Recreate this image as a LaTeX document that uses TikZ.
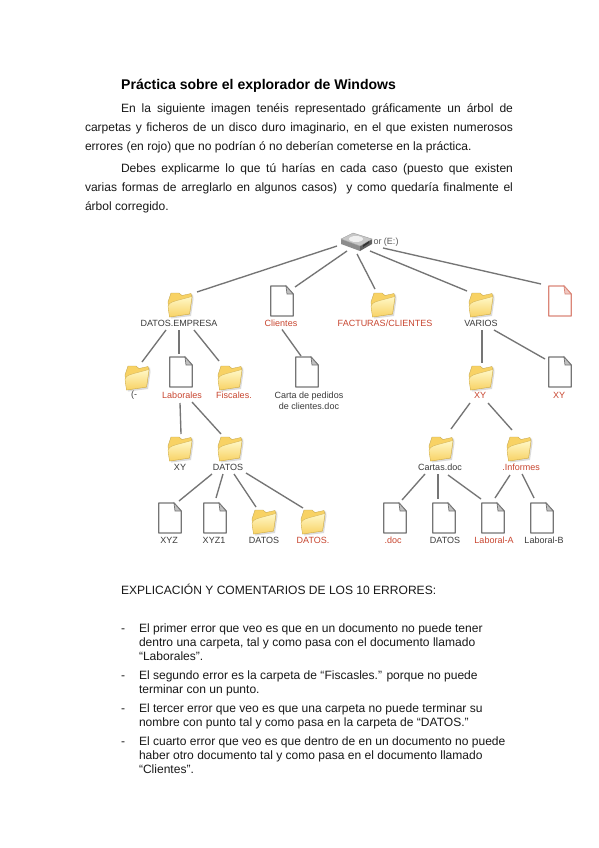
\documentclass[tikz,border=0pt]{standalone}
\usepackage{fontspec,xcolor}
\setmainfont{Liberation Sans}
\usetikzlibrary{positioning}
\definecolor{errred}{HTML}{C8452F}
\definecolor{linegray}{HTML}{757575}
\definecolor{textgray}{HTML}{3A3A3A}
\definecolor{folderhi}{HTML}{FFF8C8}
\definecolor{folderlo}{HTML}{F8D264}
\tikzset{
    x=1pt,y=-1pt,
    link/.style={draw=linegray,line width=1.35pt},
    iconbox/.style={inner sep=0pt,outer sep=0pt,minimum width=24pt,minimum height=24pt},
    lbl/.style={inner sep=0pt,outer sep=0pt,minimum height=12pt,text=textgray,font=\fontsize{9}{10.5}\selectfont,align=center},
    lblerr/.style={lbl,text=errred},
    para/.style={inner sep=0pt,outer sep=0pt,anchor=north west,text width=428pt,align=justify,font=\fontsize{12.05}{18.6}\selectfont,text=black!90},
    item/.style={inner sep=0pt,outer sep=0pt,anchor=base west,align=left,font=\fontsize{12.05}{14.3}\selectfont,text=black!90},
    folderpic/.pic={
        \fill[black!14] (-10,-9) -- (13,-10.5) -- (13.5,-6) -- (11,11) -- (-9,13.5) -- cycle;
        \fill[draw=folderlo!80!black,line width=.35pt,fill=folderlo] (-12,-3) -- (-9,-12) -- (-1,-12) -- (2,-9.5) -- (11,-11.5) -- (12,-8) -- (9.5,9) -- (-10.5,12) -- cycle;
        \shade[top color=folderhi,bottom color=folderlo,draw=folderlo!85!black,line width=.35pt] (-12,1) .. controls (-10.5,-3) and (-6,-3.5) .. (-3,-4.5) -- (12,-8.5) -- (9.5,9) -- (-10.5,12) -- cycle;
    },
    docpic/.pic={
        \fill[white,draw=#1,line width=1.25pt,line join=round] (-11.2,-15) -- (4,-15) -- (11.2,-7) -- (11.2,15) -- (-11.2,15) -- cycle;
        \fill[#1!45,draw=#1,line width=.7pt] (4,-15) -- (5,-7) -- (11.2,-7) -- cycle;
    },
    drivepic/.pic={
        \fill[black!45] (-15,-3) -- (4,4) -- (4,9) -- (-15,2) -- cycle;
        \fill[black!62] (4,4) -- (16,-3) -- (16,2) -- (4,9) -- cycle;
        \fill[black!22,draw=black!40,line width=.4pt] (-15,-3) -- (-3,-9) -- (16,-3) -- (4,4) -- cycle;
        \fill[black!6] (0,-3) ellipse (7 and 3);
        \fill[black!80] (7,3) -- (13,-1) -- (13,1) -- (7,5) -- cycle;
    }
}
\newcommand{\folderat}[3]{\node[iconbox] (#1) at (#2,#3) {}; \pic at ([shift={(0,1)}]#1.center) {folderpic};}
\newcommand{\docat}[4][linegray]{\node[iconbox,minimum height=30pt] (#2) at (#3,#4) {}; \pic at (#2.center) {docpic=#1};}
\begin{document}
\begin{tikzpicture}
    \useasboundingbox[fill=white] (0,0) rectangle (599,848);

    % text above the tree
    \node[inner sep=0pt,anchor=base west,font=\fontsize{14.05}{16}\bfseries] (title) at (121,90) {Práctica sobre el explorador de Windows};
    \node[para] (intro) at (85,104) {\hspace*{36pt}En la siguiente imagen tenéis representado gráficamente un árbol de\linebreak carpetas y ficheros de un disco duro imaginario, en el que existen numerosos\linebreak errores (en rojo) que no podrían ó no deberían cometerse en la práctica.};
    \node[para] (task) at (85,164) {\hspace*{36pt}Debes explicarme lo que tú harías en cada caso (puesto que existen\linebreak varias formas de arreglarlo en algunos casos) \ y como quedaría finalmente el\linebreak árbol corregido.};

    % tree
    \node[iconbox,minimum width=32pt,minimum height=20pt] (drive) at (356,242) {};
    \pic at (drive.center) {drivepic};
    \node[lbl,text=black!65] (lDrive) at (386,242.5) {or (E:)};

    \folderat{fEmpresa}{180}{304}
    \docat{dClientes}{282}{301}
    \folderat{fFacturas}{383}{304}
    \folderat{fVarios}{481}{304}
    \docat[errred!65!white]{dError}{560}{301}
    \node[lbl] (lEmpresa) at (179,323.5) {DATOS.EMPRESA};
    \node[lblerr] (lClientes) at (281,323.5) {Clientes};
    \node[lblerr] (lFacturas) at (385,323.5) {FACTURAS/CLIENTES};
    \node[lbl] (lVarios) at (481,323.5) {VARIOS};

    \folderat{fGuion}{137}{377}
    \docat{dLaborales}{181}{372}
    \folderat{fFiscales}{230}{377}
    \docat{dCarta}{307}{372}
    \folderat{fXYb}{481}{377}
    \docat{dXYb}{560}{372}
    \node[lbl] (lGuion) at (134,395.5) {(-};
    \node[lblerr] (lLaborales) at (182,395.5) {Laborales};
    \node[lblerr] (lFiscales) at (234,395.5) {Fiscales.};
    \node[lbl] (lCarta) at (309,401) {Carta de pedidos\\de clientes.doc};
    \node[lblerr] (lXYb) at (480,395.5) {XY};
    \node[lblerr] (lXYc) at (559,395.5) {XY};

    \folderat{fXYa}{180}{448}
    \folderat{fDatos}{230}{448}
    \folderat{fCartas}{441}{448}
    \folderat{fInformes}{519}{448}
    \node[lbl] (lXYa) at (180,467) {XY};
    \node[lbl] (lDatos) at (228,467) {DATOS};
    \node[lbl] (lCartas) at (440,467) {Cartas.doc};
    \node[lblerr] (lInformes) at (521,467) {.Informes};

    \docat{dXYZ}{170}{518}
    \docat{dXYZuno}{215}{518}
    \folderat{fDatosB}{264}{521}
    \folderat{fDatosC}{313}{521}
    \docat{dDoc}{395}{518}
    \docat{dDatos}{444}{518}
    \docat{dLabA}{493}{518}
    \docat{dLabB}{542}{518}
    \node[lbl] (lXYZ) at (169,540.5) {XYZ};
    \node[lbl] (lXYZuno) at (214,540.5) {XYZ1};
    \node[lbl] (lDatosB) at (264,540.5) {DATOS};
    \node[lblerr] (lDatosC) at (313,540.5) {DATOS.};
    \node[lblerr] (lDoc) at (393,540.5) {.doc};
    \node[lbl] (lDatosD) at (445,540.5) {DATOS};
    \node[lblerr] (lLabA) at (494,540.5) {Laboral-A};
    \node[lbl] (lLabB) at (544,540.5) {Laboral-B};

    % connectors
    \draw[link] ([shift={(-19,4)}]drive.center) -- ([shift={(17,-12)}]fEmpresa.center);
    \draw[link] ([shift={(-9,9)}]drive.center) -- ([shift={(13,-14)}]dClientes.center);
    \draw[link] ([shift={(1,12)}]drive.center) -- ([shift={(-8,-15)}]fFacturas.center);
    \draw[link] ([shift={(14,9)}]drive.center) -- ([shift={(-14,-13)}]fVarios.center);
    \draw[link] ([shift={(27,6)}]drive.center) -- ([shift={(-19,-17)}]dError.center);
    \draw[link] ([shift={(-13,6.5)}]lEmpresa.center) -- ([shift={(5,-15)}]fGuion.center);
    \draw[link] ([shift={(0,6.5)}]lEmpresa.center) -- ([shift={(-2,-18)}]dLaborales.center);
    \draw[link] ([shift={(15,6.5)}]lEmpresa.center) -- ([shift={(-11,-16)}]fFiscales.center);
    \draw[link] ([shift={(1,6)}]lClientes.center) -- ([shift={(-6,-16)}]dCarta.center);
    \draw[link] ([shift={(1,6.5)}]lVarios.center) -- ([shift={(1,-14)}]fXYb.center);
    \draw[link] ([shift={(13,6.5)}]lVarios.center) -- ([shift={(-15,-13)}]dXYb.center);
    \draw[link] ([shift={(-2,7.5)}]lLaborales.center) -- ([shift={(1,-14)}]fXYa.center);
    \draw[link] ([shift={(10,6.5)}]lLaborales.center) -- ([shift={(-9,-14)}]fDatos.center);
    \draw[link] ([shift={(-16,7)}]lDatos.center) -- ([shift={(9,-17)}]dXYZ.center);
    \draw[link] ([shift={(-5,7)}]lDatos.center) -- ([shift={(1,-20)}]dXYZuno.center);
    \draw[link] ([shift={(6,7)}]lDatos.center) -- ([shift={(-8,-14)}]fDatosB.center);
    \draw[link] ([shift={(18,6)}]lDatos.center) -- ([shift={(-10,-13)}]fDatosC.center);
    \draw[link] ([shift={(-10,7.5)}]lXYb.center) -- ([shift={(10,-19)}]fCartas.center);
    \draw[link] ([shift={(8,7.5)}]lXYb.center) -- ([shift={(-7,-18)}]fInformes.center);
    \draw[link] ([shift={(-15,7)}]lCartas.center) -- ([shift={(7,-18)}]dDoc.center);
    \draw[link] ([shift={(-2,7)}]lCartas.center) -- ([shift={(-6,-19)}]dDatos.center);
    \draw[link] ([shift={(8,8)}]lCartas.center) -- ([shift={(-12,-19)}]dLabA.center);
    \draw[link] ([shift={(-11,8)}]lInformes.center) -- ([shift={(2,-20)}]dLabA.center);
    \draw[link] ([shift={(1,7)}]lInformes.center) -- ([shift={(-8,-20)}]dLabB.center);

    % text below the tree
    \node[item] (heading) at (121,594.5) {EXPLICACIÓN Y COMENTARIOS DE LOS 10 ERRORES:};
    \node[item] (dashA) at (121,632.5) {-};
    \node[item,anchor=north west] (itemA) at (139,623.5) {El primer error que veo es que en un documento no puede tener\\dentro una carpeta, tal y como pasa con el documento llamado\\“Laborales”.};
    \node[item] (dashB) at (121,679.5) {-};
    \node[item,anchor=north west] (itemB) at (139,670.5) {El segundo error es la carpeta de “Fiscasles.” porque no puede\\terminar con un punto.};
    \node[item] (dashC) at (121,712.5) {-};
    \node[item,anchor=north west] (itemC) at (139,703.5) {El tercer error que veo es que una carpeta no puede terminar su\\nombre con punto tal y como pasa en la carpeta de “DATOS.”};
    \node[item] (dashD) at (121,745.5) {-};
    \node[item,anchor=north west] (itemD) at (139,736.5) {El cuarto error que veo es que dentro de en un documento no puede\\haber otro documento tal y como pasa en el documento llamado\\“Clientes”.};
\end{tikzpicture}
\end{document}
